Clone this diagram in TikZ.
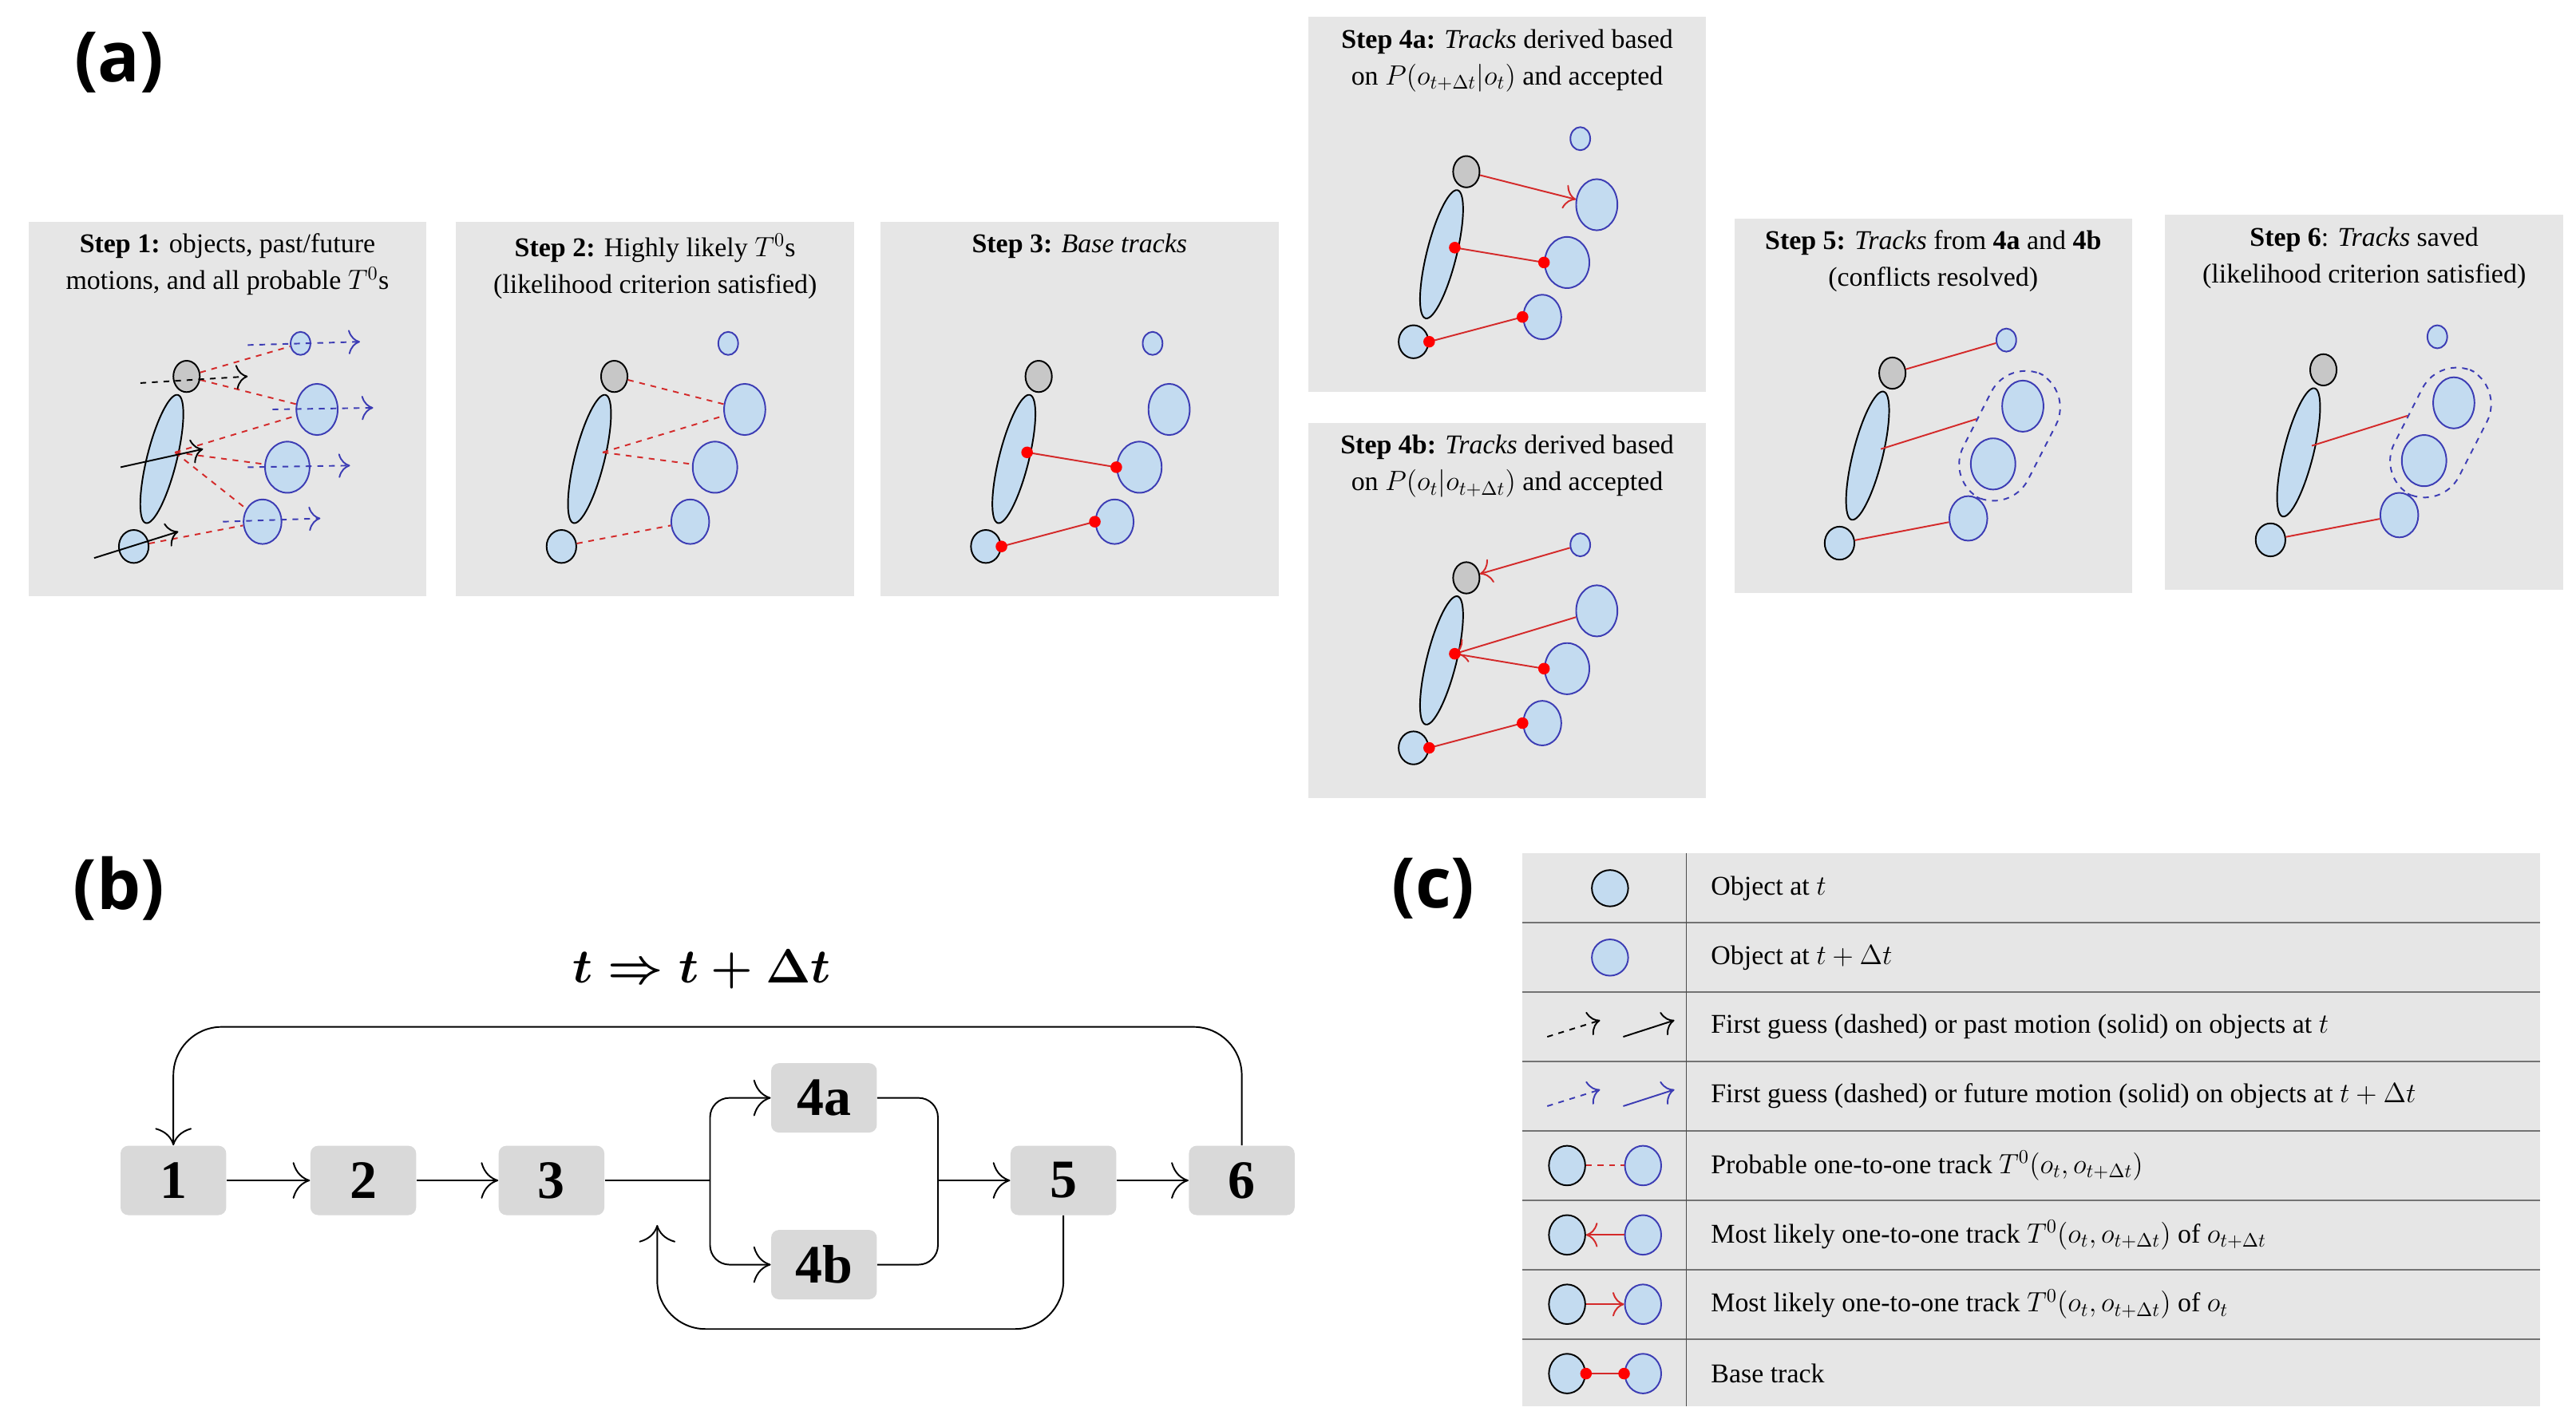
\documentclass[tikz,border=0pt]{standalone}
\usepackage{fontspec}
\setmainfont{Liberation Serif}
\newfontfamily\labfont{Open Sans}
\usetikzlibrary{positioning,shapes.geometric,arrows.meta}

\definecolor{panelgray}{HTML}{E6E6E6}
\definecolor{boxgray}{HTML}{D9D9D9}
\definecolor{objblue}{HTML}{C3DBF0}
\definecolor{edgeblue}{HTML}{3C3CB4}
\definecolor{trackred}{HTML}{D42A2A}

\tikzset{
panel/.style={fill=panelgray, draw=none, anchor=north west, minimum width=241*0.03cm, minimum height=227*0.03cm},
caption/.style={align=center, font=\fontsize{14}{19}\selectfont},
objt/.style={ellipse, draw=black, thick, fill=objblue, inner sep=0pt},
objn/.style={ellipse, draw=edgeblue, thick, fill=objblue, inner sep=0pt},
objg/.style={ellipse, draw=black, thick, fill=black!22, inner sep=0pt},
probable/.style={trackred, dashed, thick},
likely/.style={trackred, thick, -{To[length=6pt]}},
base/.style={trackred, thick},
dot/.style={circle, fill=red, inner sep=0pt, minimum size=6pt},
pastm/.style={black, thick, -{To[length=6pt]}},
futm/.style={edgeblue, thick, -{To[length=6pt]}},
stepbox/.style={rectangle, rounded corners=4pt, fill=boxgray, minimum width=64*0.03cm, minimum height=42*0.03cm, font=\fontsize{28}{30}\selectfont\bfseries},
flow/.style={thick, -{To[length=9pt]}},
legend/.style={anchor=west, font=\fontsize{14}{16}\selectfont},
biglab/.style={font=\labfont\fontsize{36}{40}\selectfont\bfseries}
}

% objects of one panel, names prefixed by #1
\newcommand\trackobjects[1]{
\node [objg, minimum width=16*0.03cm, minimum height=19*0.03cm] (#1g) at (96,94) {};
\node [objt, minimum width=18*0.03cm, minimum height=80*0.03cm, rotate=-14] (#1e) at (81,144) {};
\node [objn, minimum width=12*0.03cm, minimum height=14*0.03cm] (#1s) at (165,74) {};
\node [objn, minimum width=25*0.03cm, minimum height=31*0.03cm] (#1a) at (175,114) {};
\node [objn, minimum width=27*0.03cm, minimum height=31*0.03cm] (#1b) at (157,149) {};
\node [objn, minimum width=23*0.03cm, minimum height=27*0.03cm] (#1c) at (142,182) {};
\node [objt, minimum width=18*0.03cm, minimum height=20*0.03cm] (#1o) at (64,197) {};
\coordinate (#1p) at (89,140);
}

\begin{document}
\begin{tikzpicture}[x=0.03cm, y=-0.03cm]
\useasboundingbox (0,0) rectangle (1560,864);

\node [biglab] (laba) at (72,38) {(a)};
\node [biglab] (labb) at (72,538) {(b)};
\node [biglab] (labc) at (868,538) {(c)};

% panels
\node [panel] (p1) at (17,134) {};
\node [panel] (p2) at (276,134) {};
\node [panel] (p3) at (533,134) {};
\node [panel] (p4a) at (792,10) {};
\node [panel] (p4b) at (792,256) {};
\node [panel] (p5) at (1050,132) {};
\node [panel] (p6) at (1311,130) {};

\node [caption, below=3pt of p1.north] {\textbf{Step 1:} objects, past/future\\motions, and all probable $T^0$s};
\node [caption, below=3pt of p2.north] {\textbf{Step 2:} Highly likely $T^0$s\\(likelihood criterion satisfied)};
\node [caption, below=3pt of p3.north] {\textbf{Step 3:} \textit{Base tracks}};
\node [caption, below=3pt of p4a.north] {\textbf{Step 4a:} \textit{Tracks} derived based\\on $P(o_{t+\Delta t}|o_t)$ and accepted};
\node [caption, below=3pt of p4b.north] {\textbf{Step 4b:} \textit{Tracks} derived based\\on $P(o_t|o_{t+\Delta t})$ and accepted};
\node [caption, below=3pt of p5.north] {\textbf{Step 5:} \textit{Tracks} from \textbf{4a} and \textbf{4b}\\(conflicts resolved)};
\node [caption, below=3pt of p6.north] {\textbf{Step 6}: \textit{Tracks} saved\\(likelihood criterion satisfied)};

% step 1
\begin{scope}[shift={(17,134)}]
\trackobjects{a}
\coordinate (ag0) at (68,98); \coordinate (ag1) at (133,94);
\coordinate (ae0) at (56,149); \coordinate (ae1) at (106,138);
\coordinate (ao0) at (40,204); \coordinate (ao1) at (91,188);
\coordinate (as0) at (133,75); \coordinate (as1) at (201,73);
\coordinate (aa0) at (148,114); \coordinate (aa1) at (209,113);
\coordinate (ab0) at (133,149); \coordinate (ab1) at (195,148);
\coordinate (ac0) at (118,182); \coordinate (ac1) at (177,180);
\end{scope}
\draw [probable] (ag) -- (as);
\draw [probable] (ag) -- (aa);
\draw [probable] (ap) -- (aa);
\draw [probable] (ap) -- (ab);
\draw [probable] (ap) -- (ac);
\draw [probable] (ao) -- (ac);
\draw [pastm, dashed] (ag0) -- (ag1);
\draw [pastm] (ae0) -- (ae1);
\draw [pastm] (ao0) -- (ao1);
\foreach \k in {s,a,b,c}
  \draw [futm, dashed] (a\k0) -- (a\k1);

% step 2
\begin{scope}[shift={(276,134)}]
\trackobjects{b}
\end{scope}
\draw [probable] (bg) -- (ba);
\draw [probable] (bp) -- (ba);
\draw [probable] (bp) -- (bb);
\draw [probable] (bo) -- (bc);

% step 3
\begin{scope}[shift={(533,134)}]
\trackobjects{c}
\end{scope}
\draw [base] (cp) -- (cb.west);
\draw [base] (co.east) -- (cc.west);
\foreach \n in {cp,cb.west,co.east,cc.west} \node [dot] at (\n) {};

% step 4a
\begin{scope}[shift={(792,10)}]
\trackobjects{d}
\end{scope}
\draw [likely] (dg) -- (da);
\draw [base] (dp) -- (db.west);
\draw [base] (do.east) -- (dc.west);
\foreach \n in {dp,db.west,do.east,dc.west} \node [dot] at (\n) {};

% step 4b
\begin{scope}[shift={(792,256)}]
\trackobjects{e}
\end{scope}
\draw [likely] (es) -- (eg);
\draw [likely] (ea) -- (ep);
\draw [base] (ep) -- (eb.west);
\draw [base] (eo.east) -- (ec.west);
\foreach \n in {ep,eb.west,eo.east,ec.west} \node [dot] at (\n) {};

% step 5
\begin{scope}[shift={(1050,132)}]
\trackobjects{f}
\node [draw=edgeblue, thick, dashed, rounded corners=20pt, minimum width=44*0.03cm, minimum height=84*0.03cm, rotate=-27] (fk) at (167,132) {};
\end{scope}
\draw [base] (fg) -- (fs);
\draw [base] (fp) -- (fk.west);
\draw [base] (fo) -- (fc);

% step 6
\begin{scope}[shift={(1311,130)}]
\trackobjects{g}
\node [draw=edgeblue, thick, dashed, rounded corners=20pt, minimum width=44*0.03cm, minimum height=84*0.03cm, rotate=-27] (gk) at (167,132) {};
\end{scope}
\draw [base] (gp) -- (gk.west);
\draw [base] (go) -- (gc);

% (b) flow
\node [font=\fontsize{28}{30}\selectfont\boldmath] (tt) at (425,587) {$t \Rightarrow t + \Delta t$};
\node [stepbox] (s1) at (105,715) {1};
\node [stepbox] (s2) at (220,715) {2};
\node [stepbox] (s3) at (334,715) {3};
\node [stepbox] (s4a) at (499,665) {4a};
\node [stepbox] (s4b) at (499,766) {4b};
\node [stepbox] (s5) at (644,715) {5};
\node [stepbox] (s6) at (752,715) {6};
\coordinate (split) at (430,715);
\coordinate (join) at (568,715);
\coordinate (back) at (398,742);

\draw [flow] (s1) -- (s2);
\draw [flow] (s2) -- (s3);
\draw [thick] (s3) -- (split);
\draw [flow, rounded corners=10pt] (split) |- (s4a);
\draw [flow, rounded corners=10pt] (split) |- (s4b);
\draw [thick, rounded corners=10pt] (s4a) -| (join);
\draw [thick, rounded corners=10pt] (s4b) -| (join);
\draw [flow] (join) -- (s5);
\draw [flow] (s5) -- (s6);
\draw [flow, rounded corners=25pt] (s6.north) |- (105,622) -- (s1.north);
\draw [flow, rounded corners=25pt] (s5.south) |- (398,805) -- (back);

% (c) legend
\fill [panelgray] (922,517) rectangle (1538,852);
\foreach \y in {559,601,643,685,727,769,811}
  \draw [black!55, thick] (922,\y) -- (1538,\y);
\draw [black!70] (1021,517) -- (1021,852);
\node [objt, minimum width=22*0.03cm, minimum height=22*0.03cm] (l1) at (975,538) {};
\node [objn, minimum width=22*0.03cm, minimum height=22*0.03cm] (l2) at (975,580) {};
\coordinate (l3a) at (937,628); \coordinate (l3b) at (969,618);
\coordinate (l3c) at (983,628); \coordinate (l3d) at (1014,618);
\draw [pastm, dashed] (l3a) -- (l3b);
\draw [pastm] (l3c) -- (l3d);
\coordinate (l4a) at (937,670); \coordinate (l4b) at (969,660);
\coordinate (l4c) at (983,670); \coordinate (l4d) at (1014,660);
\draw [futm, dashed] (l4a) -- (l4b);
\draw [futm] (l4c) -- (l4d);
\foreach \r/\y in {5/706,6/748,7/790,8/832} {
  \node [objt, minimum width=22*0.03cm, minimum height=24*0.03cm] (l\r a) at (949,\y) {};
  \node [objn, minimum width=22*0.03cm, minimum height=24*0.03cm] (l\r b) at (995,\y) {};
}
\draw [probable] (l5a) -- (l5b);
\draw [likely] (l6b) -- (l6a);
\draw [likely] (l7a) -- (l7b);
\draw [base] (l8a.east) -- (l8b.west);
\node [dot] at (l8a.east) {};
\node [dot] at (l8b.west) {};

\node [legend] (t1) at (1032,538) {Object at $t$};
\node [legend] (t2) at (1032,580) {Object at $t + \Delta t$};
\node [legend] (t3) at (1032,622) {First guess (dashed) or past motion (solid) on objects at $t$};
\node [legend] (t4) at (1032,664) {First guess (dashed) or future motion (solid) on objects at $t + \Delta t$};
\node [legend] (t5) at (1032,706) {Probable one-to-one track $T^0(o_t, o_{t+\Delta t})$};
\node [legend] (t6) at (1032,748) {Most likely one-to-one track $T^0(o_t, o_{t+\Delta t})$ of $o_{t+\Delta t}$};
\node [legend] (t7) at (1032,790) {Most likely one-to-one track $T^0(o_t, o_{t+\Delta t})$ of $o_t$};
\node [legend] (t8) at (1032,832) {Base track};
\end{tikzpicture}
\end{document}
